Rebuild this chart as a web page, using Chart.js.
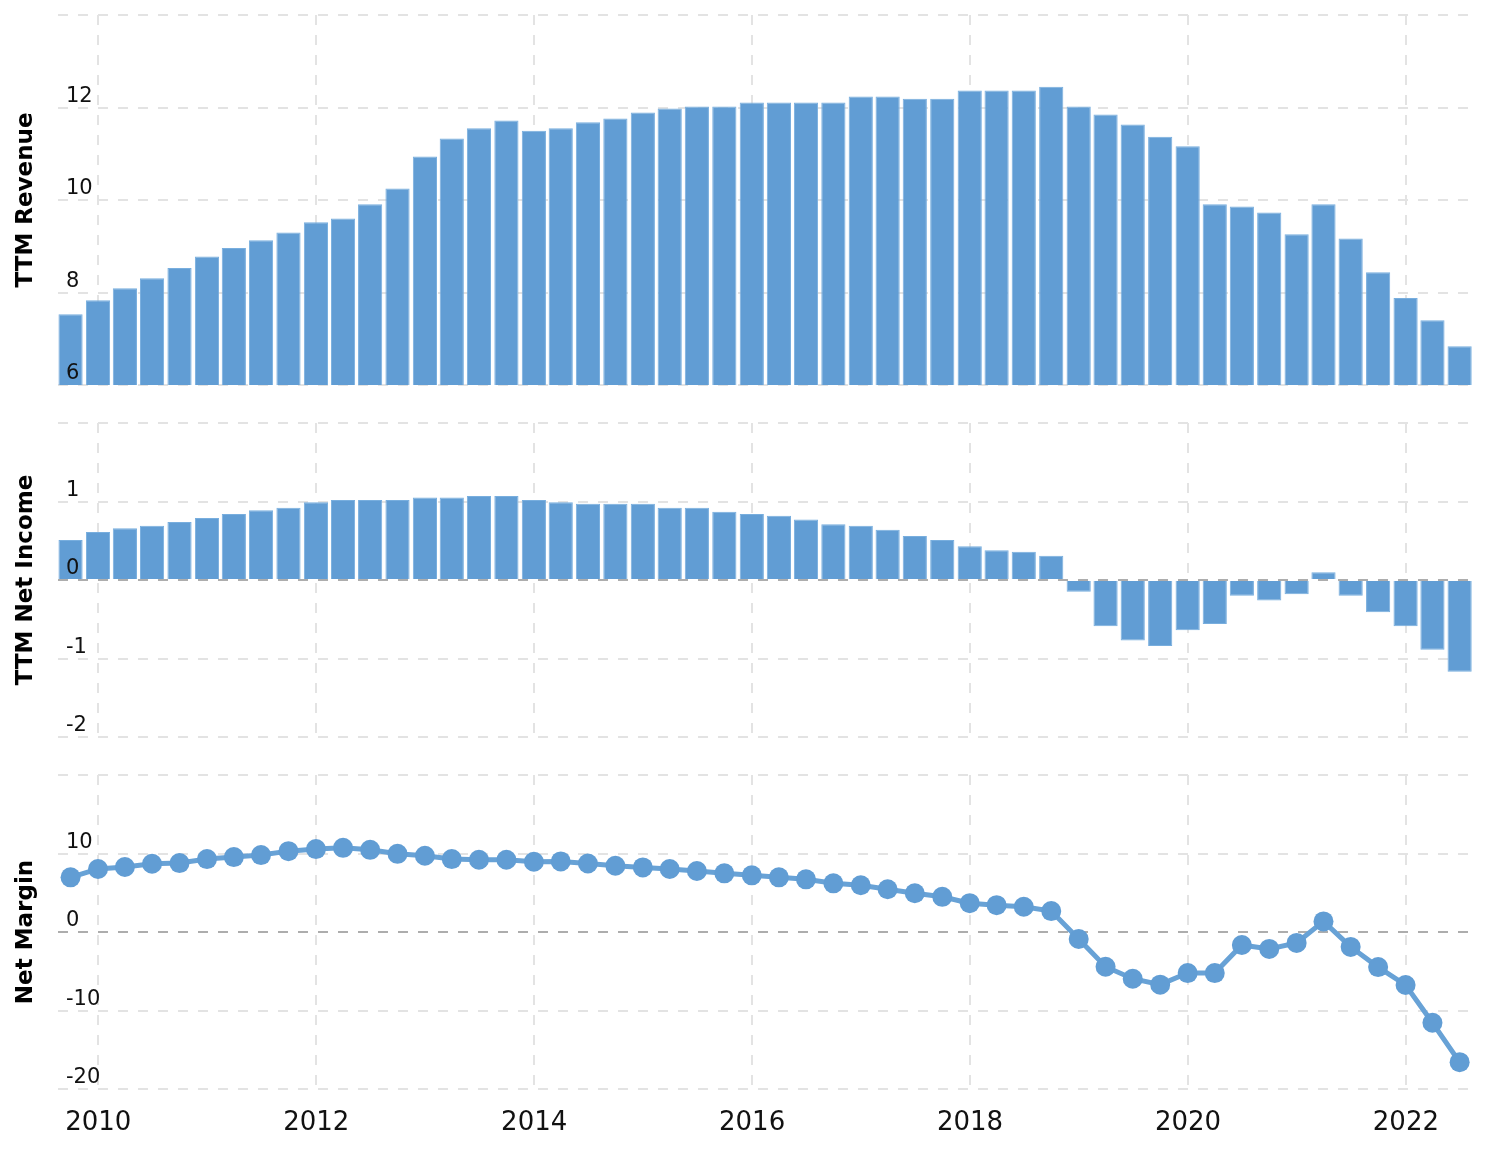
<!DOCTYPE html>
<html>
<head>
<meta charset="utf-8">
<script src="https://cdn.jsdelivr.net/npm/chart.js@4.4.1/dist/chart.umd.min.js"></script>
<style>
  body { margin: 0; background: #fff; }
  #wrap { position: relative; width: 1494px; height: 1156px; }
  canvas { position: absolute; left: 0; }
</style>
</head>
<body>
<div id="wrap">
  <canvas id="chart1" width="1494" height="400" style="top:0"></canvas>
  <canvas id="chart2" width="1494" height="350" style="top:400px"></canvas>
  <canvas id="chart3" width="1494" height="406" style="top:750px"></canvas>
</div>
<script>
// quarter end dates
const quarters = [
  '2009-09-30', '2009-12-31',
  '2010-03-31', '2010-06-30', '2010-09-30', '2010-12-31',
  '2011-03-31', '2011-06-30', '2011-09-30', '2011-12-31',
  '2012-03-31', '2012-06-30', '2012-09-30', '2012-12-31',
  '2013-03-31', '2013-06-30', '2013-09-30', '2013-12-31',
  '2014-03-31', '2014-06-30', '2014-09-30', '2014-12-31',
  '2015-03-31', '2015-06-30', '2015-09-30', '2015-12-31',
  '2016-03-31', '2016-06-30', '2016-09-30', '2016-12-31',
  '2017-03-31', '2017-06-30', '2017-09-30', '2017-12-31',
  '2018-03-31', '2018-06-30', '2018-09-30', '2018-12-31',
  '2019-03-31', '2019-06-30', '2019-09-30', '2019-12-31',
  '2020-03-31', '2020-06-30', '2020-09-30', '2020-12-31',
  '2021-03-31', '2021-06-30', '2021-09-30', '2021-12-31',
  '2022-03-31', '2022-06-30'
];

// TTM revenue (billions)
const revenue = [
  7.53, 7.83, 8.09, 8.31, 8.53, 8.78, 8.96, 9.13, 9.30, 9.52,
  9.60, 9.91, 10.25, 10.94, 11.33, 11.55, 11.72, 11.50, 11.55, 11.68,
  11.76, 11.89, 11.98, 12.02, 12.02, 12.11, 12.11, 12.11, 12.11, 12.24,
  12.24, 12.19, 12.19, 12.37, 12.37, 12.37, 12.45, 12.02, 11.85, 11.63,
  11.37, 11.16, 9.91, 9.86, 9.73, 9.26, 9.91, 9.17, 8.44, 7.88,
  7.40, 6.84
];

// TTM net income (billions)
const netIncome = [
  0.51, 0.61, 0.66, 0.69, 0.74, 0.79, 0.84, 0.89, 0.92, 0.99,
  1.02, 1.02, 1.02, 1.05, 1.05, 1.07, 1.07, 1.02, 0.99, 0.97,
  0.97, 0.97, 0.92, 0.92, 0.87, 0.84, 0.82, 0.77, 0.71, 0.69,
  0.64, 0.56, 0.51, 0.43, 0.38, 0.36, 0.31, -0.15, -0.59, -0.77,
  -0.84, -0.64, -0.56, -0.20, -0.26, -0.18, 0.10, -0.20, -0.41, -0.59,
  -0.89, -1.17
];

// net margin (%)
const netMargin = [
  6.96, 8.03, 8.28, 8.70, 8.78, 9.29, 9.54, 9.80, 10.30, 10.56,
  10.72, 10.47, 9.96, 9.71, 9.29, 9.20, 9.20, 8.95, 8.99, 8.73,
  8.44, 8.23, 8.03, 7.77, 7.47, 7.22, 6.96, 6.71, 6.20, 5.95,
  5.44, 4.94, 4.48, 3.67, 3.42, 3.21, 2.66, -0.89, -4.43, -5.95,
  -6.71, -5.23, -5.23, -1.65, -2.15, -1.39, 1.35, -1.90, -4.47, -6.75,
  -11.56, -16.58
];

const BLUE = 'rgb(97,157,212)';
const GRID = '#e3e3e3';
const ZERO = 'rgba(0,0,0,0.32)';

function yearFrac(s) {
  const d = Date.parse(s + 'T00:00:00Z');
  const y = new Date(d).getUTCFullYear();
  const a = Date.UTC(y, 0, 1), b = Date.UTC(y + 1, 0, 1);
  return y + (d - a) / (b - a);
}
const xs = quarters.map(yearFrac);
const points = vals => vals.map((v, i) => ({ x: xs[i], y: v }));

// zero line drawn over the bars
const zeroLine = {
  id: 'zeroLine',
  afterDatasetsDraw(chart) {
    const { ctx, chartArea, scales } = chart;
    const y = scales.y.getPixelForValue(0);
    ctx.save();
    ctx.strokeStyle = ZERO;
    ctx.lineWidth = 2;
    ctx.setLineDash([10, 10]);
    ctx.beginPath();
    ctx.moveTo(chartArea.left, y);
    ctx.lineTo(chartArea.right, y);
    ctx.stroke();
    ctx.restore();
  }
};

function xScale(showLabels) {
  return {
    type: 'linear',
    min: 2009.63,
    max: 2022.57,
    offset: false,
    grid: { color: GRID, lineWidth: 2, drawTicks: false, offset: false },
    border: { display: false, dash: [10, 10] },
    ticks: {
      display: showLabels,
      stepSize: 2,
      includeBounds: false,
      padding: 19,
      color: '#111',
      font: { family: 'DejaVu Sans', size: 26 },
      callback: v => String(v)
    },
    afterFit: s => {
      s.height = showLabels ? 67 : 0;
      s.paddingLeft = 0; s.paddingRight = 0;
    }
  };
}

function yScale(title, min, max, step, zeroOnGrid) {
  return {
    min: min,
    max: max,
    beginAtZero: false,
    grid: {
      lineWidth: 2,
      drawTicks: false,
      color: c => (c.tick.value === 0 && zeroOnGrid !== undefined) ? zeroOnGrid : GRID
    },
    border: { display: false, dash: [10, 10] },
    ticks: {
      stepSize: step,
      mirror: true,
      padding: 8,
      labelOffset: -11,
      z: 1,
      color: '#111',
      font: { family: 'DejaVu Sans', size: 21 },
      callback: v => v === max ? '' : String(v)
    },
    title: {
      display: true,
      text: title,
      color: '#000',
      padding: { top: 12, bottom: 0 },
      font: { family: 'DejaVu Sans', size: 23, weight: 'bold' }
    },
    afterFit: s => {
      s.width = 58;
      s.paddingTop = 0; s.paddingBottom = 0;
    }
  };
}

const common = {
  responsive: false,
  animation: false,
  plugins: { legend: { display: false }, tooltip: { enabled: false } }
};

// let the outer bars/points run past the side edges only
const sideClip = { left: 12, right: 12, top: 0, bottom: 0 };

new Chart(document.getElementById('chart1'), {
  type: 'bar',
  data: {
    datasets: [{
      data: points(revenue),
      backgroundColor: BLUE,
      borderColor: 'rgb(120,174,222)',
      borderWidth: 1,
      barPercentage: 0.9,
      categoryPercentage: 1,
      clip: sideClip
    }]
  },
  options: Object.assign({}, common, {
    layout: { padding: { top: 15, bottom: 15, left: 0, right: 26 } },
    scales: { x: xScale(false), y: yScale('TTM Revenue', 6, 14, 2) }
  })
});

new Chart(document.getElementById('chart2'), {
  type: 'bar',
  data: {
    datasets: [{
      data: points(netIncome),
      backgroundColor: BLUE,
      borderColor: 'rgb(120,174,222)',
      borderWidth: 1,
      barPercentage: 0.9,
      categoryPercentage: 1,
      clip: sideClip
    }]
  },
  options: Object.assign({}, common, {
    layout: { padding: { top: 23, bottom: 13, left: 0, right: 26 } },
    scales: { x: xScale(false), y: yScale('TTM Net Income', -2, 2, 1, 'rgba(0,0,0,0)') }
  }),
  plugins: [zeroLine]
});

new Chart(document.getElementById('chart3'), {
  type: 'line',
  data: {
    datasets: [{
      data: points(netMargin),
      borderColor: 'rgb(104,162,214)',
      backgroundColor: BLUE,
      borderWidth: 5,
      pointRadius: 10,
      pointBorderWidth: 0,
      pointBackgroundColor: BLUE,
      tension: 0,
      clip: false
    }]
  },
  options: Object.assign({}, common, {
    layout: { padding: { top: 25, bottom: 0, left: 0, right: 26 } },
    scales: { x: xScale(true), y: yScale('Net Margin', -20, 20, 10, ZERO) }
  })
});
</script>
</body>
</html>
